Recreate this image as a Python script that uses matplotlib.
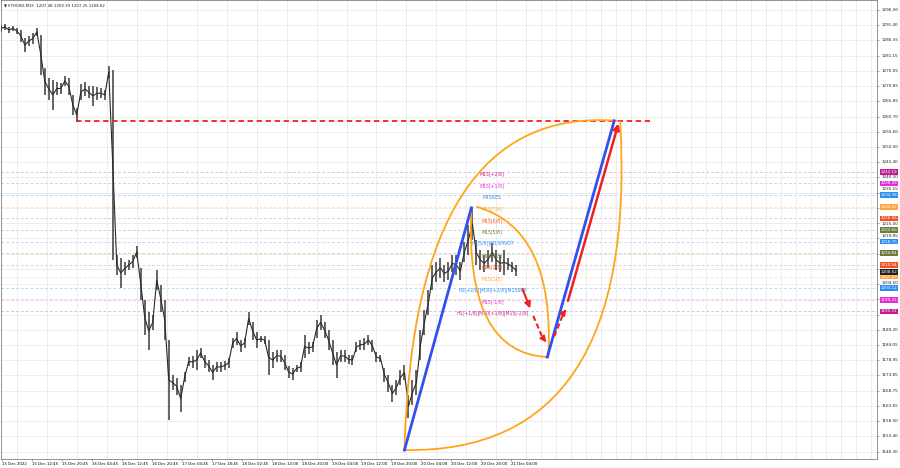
import matplotlib
matplotlib.use('Agg')
import matplotlib.pyplot as plt
from matplotlib.path import Path
from matplotlib.patches import PathPatch
import numpy as np

# ETHUSD M15 price trace, sampled every 4 chart units (x), high / low per sample
bar_x = np.arange(0, 520, 4)
bar_high = [1291.5, 1291.8, 1290.8, 1291.1, 1290.5, 1289.8, 1287.1, 1287.8, 1288.8, 1290.5,
            1288.1, 1277.0, 1273.7, 1273.0, 1272.3, 1272.0, 1274.4, 1273.7, 1268.0, 1263.6,
            1271.7, 1272.3, 1271.0, 1271.0, 1270.7, 1270.3, 1269.7, 1277.7, 1276.4, 1214.3,
            1213.3, 1211.9, 1212.6, 1214.3, 1217.3, 1209.9, 1199.2, 1195.2, 1194.2, 1209.2,
            1204.2, 1199.2, 1185.8, 1174.0, 1173.0, 1170.6, 1175.0, 1180.0, 1180.4, 1182.4,
            1183.1, 1180.7, 1179.0, 1177.4, 1178.4, 1178.4, 1178.7, 1179.7, 1186.4, 1188.4,
            1185.8, 1186.4, 1195.2, 1191.8, 1188.4, 1187.1, 1187.1, 1185.8, 1181.7, 1182.4,
            1182.4, 1180.7, 1177.0, 1176.4, 1177.4, 1178.4, 1187.4, 1185.1, 1185.1, 1192.5,
            1194.2, 1191.8, 1189.1, 1185.8, 1181.7, 1182.4, 1182.4, 1180.7, 1180.7, 1185.1,
            1185.8, 1186.4, 1187.4, 1185.8, 1181.7, 1180.7, 1176.4, 1174.0, 1170.6, 1172.3,
            1175.7, 1177.4, 1167.3, 1172.3, 1175.7, 1189.1, 1195.8, 1202.5, 1210.9, 1211.9,
            1213.3, 1210.9, 1211.9, 1214.3, 1214.3, 1211.9, 1218.6, 1224.4, 1230.1, 1219.3,
            1216.0, 1214.3, 1216.0, 1218.3, 1216.0, 1214.3, 1216.0, 1213.3, 1211.9, 1210.9]
bar_low = [1289.1, 1289.8, 1288.8, 1289.5, 1288.5, 1285.8, 1282.4, 1284.4, 1285.1, 1287.8,
           1274.7, 1268.0, 1266.3, 1263.0, 1268.0, 1268.3, 1271.0, 1268.0, 1261.3, 1258.9,
           1266.3, 1267.6, 1267.0, 1264.3, 1266.3, 1267.0, 1266.3, 1273.7, 1212.6, 1207.6,
           1203.2, 1207.6, 1209.2, 1209.9, 1213.3, 1199.2, 1187.4, 1182.4, 1189.1, 1202.5,
           1195.2, 1185.8, 1158.9, 1168.9, 1167.3, 1161.6, 1171.7, 1177.0, 1176.4, 1175.7,
           1179.7, 1176.4, 1175.0, 1172.3, 1175.0, 1175.0, 1175.7, 1176.4, 1183.1, 1184.1,
           1181.7, 1183.1, 1190.8, 1185.8, 1183.1, 1185.1, 1184.4, 1174.0, 1176.4, 1178.4,
           1178.4, 1175.7, 1173.0, 1172.3, 1175.0, 1175.0, 1179.7, 1181.1, 1181.7, 1186.4,
           1189.1, 1186.4, 1182.4, 1177.4, 1173.0, 1178.4, 1178.4, 1177.7, 1177.4, 1181.7,
           1182.4, 1182.4, 1184.1, 1181.7, 1178.4, 1178.4, 1171.7, 1168.3, 1165.0, 1167.3,
           1170.6, 1172.3, 1159.6, 1163.9, 1167.3, 1179.0, 1187.4, 1194.2, 1202.5, 1205.2,
           1206.6, 1205.2, 1205.9, 1208.6, 1207.6, 1205.9, 1211.9, 1214.3, 1219.3, 1210.9,
           1209.2, 1208.6, 1209.9, 1211.9, 1209.2, 1208.6, 1207.6, 1209.2, 1208.6, 1207.3]

# Murrey math levels
levels = [1242.19, 1238.28, 1234.38, 1230.47, 1226.56, 1222.66, 1218.75,
          1214.84, 1210.94, 1207.03, 1203.12, 1199.22, 1195.31]
level_names = ['M15[+2/8]', 'M15[+1/8]', 'M15RES', 'M15[7/8]', 'M15[6/8]', 'M15[5/8]',
               'H1[5/8]|M15PIVOT', 'M15[3/8]', 'M15[2/8]', 'M15[1/8]',
               'H1[+2/8]|M30[+2/8]|M15SUP', 'M15[-1/8]', 'H1[+1/8]|M30[+1/8]|M15[-2/8]']
level_colors = ['#C0208F', '#E030D0', '#2D8CF0', '#FFA53A', '#F5501E', '#6E7B3A', '#2D8CF0',
                '#6E7B3A', '#F5501E', '#FFA53A', '#2D8CF0', '#E030D0', '#C0208F']

last_price = 1208.62
target_price = 1259.3

price_ticks = [1296.50, 1291.40, 1286.35, 1281.15, 1276.05, 1270.85, 1265.85, 1260.70,
               1255.60, 1250.50, 1245.40, 1240.30, 1235.15, 1230.05, 1225.00, 1219.85,
               1214.75, 1209.65, 1204.50, 1199.40, 1194.30, 1189.20, 1184.05, 1178.95,
               1173.85, 1168.75, 1163.65, 1158.50, 1153.40, 1148.30]
# tick labels covered by the level boxes on the price scale
hidden_ticks = [1230.05, 1214.75, 1209.65, 1199.40, 1194.30]
time_labels = ['15 Dec 2022', '15 Dec 12:45', '15 Dec 20:45', '16 Dec 04:45', '16 Dec 12:45',
               '16 Dec 20:45', '17 Dec 04:45', '17 Dec 18:45', '18 Dec 02:45', '18 Dec 12:00',
               '18 Dec 20:00', '19 Dec 04:00', '19 Dec 12:00', '19 Dec 20:00', '20 Dec 04:00',
               '20 Dec 12:00', '20 Dec 20:00', '21 Dec 04:00']

plt.rcParams['font.family'] = ['DejaVu Sans']

fig = plt.figure(figsize=(9, 4.68), dpi=100)
ax = fig.add_axes([0.001, 9 / 468, 876 / 900, 459 / 468])
ax.set_xlim(0, 877)
ax.set_ylim(1145.8, 1299.86)
px = (1299.86 - 1145.8) / 459  # price per pixel

# grid
ax.set_yticks(price_ticks)
ax.set_yticklabels([])
ax.set_xticks(np.arange(len(time_labels)) * 30 + 1)
ax.set_xticklabels(time_labels, ha='left')
ax.set_xticks(np.arange(1, 877, 15), minor=True)
ax.grid(True, which='major', axis='y', color='#e6e6e6', lw=0.5)
ax.grid(True, which='minor', axis='x', color='#e6e6e6', lw=0.5)
ax.yaxis.tick_right()
ax.tick_params(axis='both', labelsize=2.8, length=1.5, width=0.4, color='#606060', pad=1)
ax.tick_params(axis='x', which='minor', length=0)
for s in ax.spines.values():
    s.set_color('#808080')
    s.set_linewidth(0.6)

# price scale labels, nudged clear of the level boxes
boxes = levels + [last_price]
for p in price_ticks:
    if p in hidden_ticks:
        continue
    y = p
    for b in boxes:
        d = (p - b) / px
        if abs(d) < 5.6:
            y = b + np.sign(d) * 5.6 * px
    ax.text(1.005, y, f'{p:.2f}', transform=ax.get_yaxis_transform(), fontsize=3.0,
            color='#202020', va='center', ha='left', clip_on=False)

# murrey levels
for lvl, name, col in zip(levels, level_names, level_colors):
    ax.axhline(lvl, color=col, lw=0.5, ls=(0, (4, 3)), alpha=0.45, zorder=1)
    ax.text(492, lvl - 0.7, name, color=col, fontsize=3.3, ha='center', va='center', zorder=4)
    ax.text(1.004, lvl, f'{lvl:.2f}', transform=ax.get_yaxis_transform(), fontsize=3.0,
            color='white', va='center', ha='left', clip_on=False, zorder=6,
            bbox=dict(boxstyle='square,pad=0.2', fc=col, ec='none'))
ax.text(1.004, last_price, f'{last_price:.2f}', transform=ax.get_yaxis_transform(),
        fontsize=3.0, color='white', va='center', ha='left', clip_on=False, zorder=7,
        bbox=dict(boxstyle='square,pad=0.2', fc='#202020', ec='none'))

# price bars
mid = (np.array(bar_high) + np.array(bar_low)) / 2
ax.vlines(bar_x, bar_low, bar_high, color='#3a3a3a', lw=1.1, zorder=3)
ax.plot(bar_x, mid, color='#2a2a2a', lw=0.8, zorder=3)

# target level
ax.plot([75, 650], [target_price, target_price], color='#F02020', lw=1.3,
        ls=(0, (3, 2)), zorder=5)

# orange lens curves
orange = '#FFA51A'
curves = [
    [(404, 1148.8), (413, 1265.0), (618, target_price)],
    [(404, 1148.8), (639, 1147.5), (620, target_price)],
    [(471, 1230.1), (464, 1181.1), (548, 1180.0)],
    [(476, 1230.5), (555, 1223.0), (548, 1180.0)],
]
for pts in curves:
    path = Path(pts, [Path.MOVETO, Path.CURVE3, Path.CURVE3])
    ax.add_patch(PathPatch(path, fc='none', ec=orange, lw=1.3, zorder=5))

# blue projection lines
blue = '#3050F0'
ax.plot([404, 471], [1148.8, 1230.1], color=blue, lw=2.0, zorder=6)
ax.plot([547, 614], [1180.0, target_price], color=blue, lw=2.0, zorder=6)

# red arrows
red = '#F02020'
head = '-|>,head_length=0.35,head_width=0.18'
ax.annotate('', xy=(531, 1195.5), xytext=(521, 1203.8),
            arrowprops=dict(arrowstyle=head, color=red, lw=1.5), zorder=7)
ax.plot([533, 543], [1193.8, 1186.0], color=red, lw=1.5, ls=(0, (2.5, 1.5)), zorder=7)
ax.annotate('', xy=(546, 1185.0), xytext=(543, 1186.3),
            arrowprops=dict(arrowstyle=head, color=red, lw=1.2), zorder=7)
ax.plot([554, 563], [1187.0, 1194.5], color=red, lw=1.5, ls=(0, (2.5, 1.5)), zorder=7)
ax.annotate('', xy=(566, 1196.0), xytext=(563, 1194.7),
            arrowprops=dict(arrowstyle=head, color=red, lw=1.2), zorder=7)
ax.annotate('', xy=(619, target_price), xytext=(567, 1198.0),
            arrowprops=dict(arrowstyle=head, color=red, lw=1.8), zorder=7)

ax.text(0.004, 0.992, '\u25BC ETHUSD,M15  1207.48 1209.39 1207.25 1208.62',
        transform=ax.transAxes, fontsize=2.8, va='top', ha='left', color='#202020')

fig.savefig('out.png', dpi=100)
